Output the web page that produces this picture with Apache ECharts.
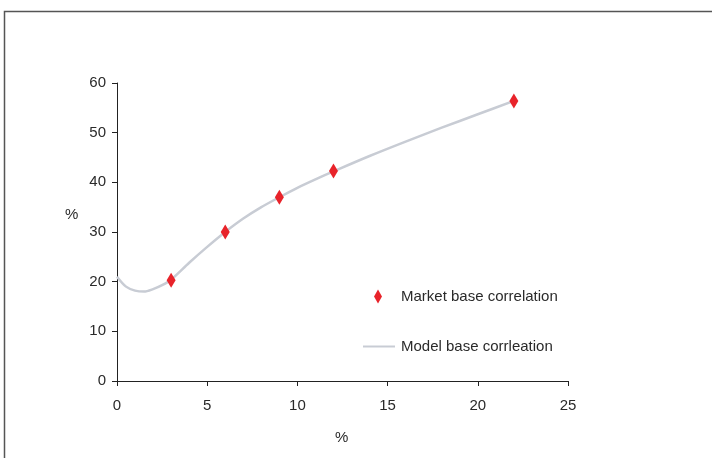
<!DOCTYPE html>
<html>
<head>
<meta charset="utf-8">
<script src="https://cdn.jsdelivr.net/npm/echarts@6/dist/echarts.min.js"></script>
<style>
html,body{margin:0;padding:0;background:#fff;}
#c{width:712px;height:458px;}
</style>
</head>
<body>
<div id="c"></div>
<script>
// Market base correlation (x = detachment %, y = correlation %)
const marketX = [3, 6, 9, 12, 22];
const marketY = [20.3, 30.0, 37.0, 42.3, 56.4];
// Model base correlation curve
const modelX = [0, 0.5, 1, 1.5, 2, 2.5, 3, 4, 5, 6, 7, 8, 9, 10, 11, 12, 14, 16, 18, 20, 22];
const modelY = [21, 19, 18.2, 18, 18.5, 19.3, 20.4, 23.8, 27, 30, 32.7, 35, 37, 38.9, 40.6, 42.2, 45.3, 48.2, 51, 53.7, 56.4];
const xTicks = [0, 5, 10, 15, 20, 25];
const yTicks = [0, 10, 20, 30, 40, 50, 60];

const FONT = '"Liberation Sans", Arial, Helvetica, sans-serif';
const FS = 15;
const TXT = '#2a2a2a';
const diamond = 'path://M4,0 L8,7 L4,14 L0,7 Z';

const chart = echarts.init(document.getElementById('c'));
chart.setOption({
  animation: false,
  backgroundColor: '#fff',
  grid: { left: 117, top: 83, right: 144, bottom: 77, containLabel: false },
  xAxis: {
    type: 'value', min: xTicks[0], max: xTicks[xTicks.length - 1], interval: 5,
    axisLine: { show: true, lineStyle: { color: '#222', width: 1 } },
    axisTick: { show: true, length: 5, lineStyle: { color: '#222' } },
    axisLabel: { color: TXT, fontFamily: FONT, fontSize: FS, margin: 17 },
    splitLine: { show: false }
  },
  yAxis: {
    type: 'value', min: yTicks[0], max: yTicks[yTicks.length - 1], interval: 10,
    axisLine: { show: true, lineStyle: { color: '#222', width: 1 } },
    axisTick: { show: true, length: 5, lineStyle: { color: '#222' } },
    axisLabel: { color: TXT, fontFamily: FONT, fontSize: FS, margin: 11 },
    splitLine: { show: false }
  },
  legend: [
    {
      data: [{ name: 'Market base correlation', icon: diamond }],
      left: 374, top: 289, itemWidth: 8, itemHeight: 14, padding: 0,
      textStyle: { color: TXT, fontFamily: FONT, fontSize: FS, padding: [0, 0, 0, 14] },
      selectedMode: false
    },
    {
      data: [{ name: 'Model base corrleation', icon: 'rect' }],
      left: 363, top: 339, itemWidth: 32, itemHeight: 2, padding: 0,
      textStyle: { color: TXT, fontFamily: FONT, fontSize: FS, padding: [0, 0, 0, 1] },
      selectedMode: false
    }
  ],
  graphic: [
    { type: 'rect', shape: { x: 4.5, y: 11.5, width: 800, height: 500 },
      style: { fill: 'none', stroke: '#555', lineWidth: 1.5 }, silent: true },
    { type: 'text', left: 65, top: 207, style: { text: '%', fill: TXT, font: FS + 'px ' + FONT } },
    { type: 'text', left: 335, top: 430, style: { text: '%', fill: TXT, font: FS + 'px ' + FONT } }
  ],
  series: [
    {
      name: 'Model base corrleation', type: 'line', smooth: 0.3,
      data: modelX.map((x, i) => [x, modelY[i]]),
      showSymbol: false, symbol: 'none',
      lineStyle: { color: '#c8ccd4', width: 2.5 },
      itemStyle: { color: '#c8ccd4' },
      z: 2
    },
    {
      name: 'Market base correlation', type: 'scatter',
      data: marketX.map((x, i) => [x, marketY[i]]),
      symbol: diamond, symbolSize: [9, 15],
      itemStyle: { color: '#e8232a', opacity: 1 },
      z: 3
    }
  ]
});
</script>
</body>
</html>
